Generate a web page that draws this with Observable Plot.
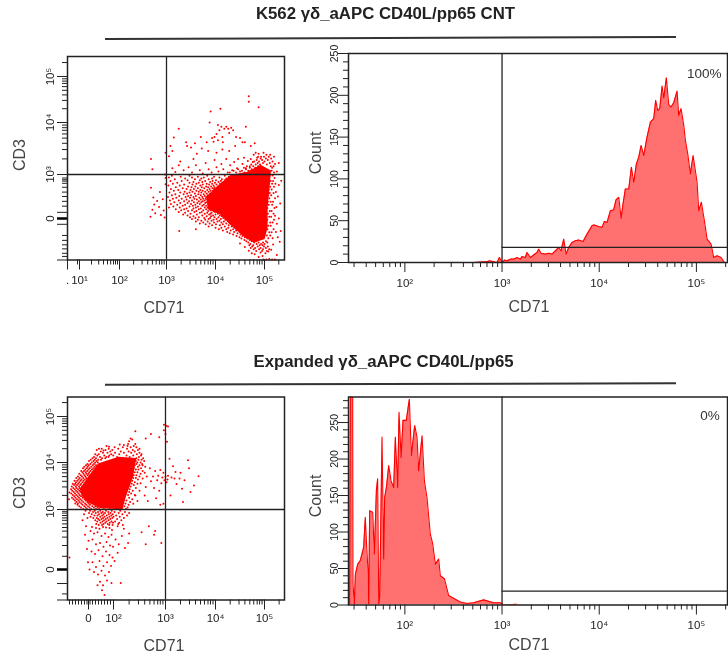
<!DOCTYPE html>
<html><head><meta charset="utf-8">
<script src="https://cdn.jsdelivr.net/npm/d3@7"></script>
<script src="https://cdn.jsdelivr.net/npm/@observablehq/plot@0.6"></script>
<style>
html,body{margin:0;padding:0;background:#fff}
#page{position:relative;width:728px;height:657px;overflow:hidden;font-family:"Liberation Sans",Arial,sans-serif;filter:blur(0.3px)}
#page svg{position:absolute;background:none;overflow:visible}
.t{position:absolute;white-space:nowrap;transform:translate(-50%,-50%);line-height:1}
.title{font-weight:bold;font-size:16.8px;color:#222}
.lab{font-size:16px;color:#444}
.lab.r{transform:translate(-50%,-50%) rotate(-90deg)}
.line{position:absolute;height:1.5px;background:#333}
</style></head><body><div id="page"></div>
<script>
const titleTop="K562 γδ_aAPC CD40L/pp65 CNT";
const titleBottom="Expanded γδ_aAPC CD40L/pp65";
const sup={1:"10¹",2:"10²",3:"10³",4:"10⁴",5:"10⁵"};

// scatter: solid core outline, in display decades
const coreA=[[3.83,2.49],[4.03,2.71],[4.31,2.97],[4.65,3.04],[4.92,3.17],[5.12,3.07],[5.09,2.71],[5.05,2.26],[5.05,1.81],[4.99,1.55],[4.78,1.48],[4.61,1.59],[4.37,1.81],[4.10,2.11],[3.86,2.22]];
const coreC=[[0.68,3.44],[1.01,3.69],[1.41,3.97],[2.10,4.11],[2.42,4.08],[2.36,3.69],[2.23,3.30],[2.16,3.02],[1.48,3.04],[1.01,3.16],[0.75,3.30]];

const dotsA=[[4.68,4.57],[4.68,4.45],[4.88,4.33],[3.90,4.24],[4.10,4.30],[3.88,4.00],[3.25,3.88],[3.15,3.71],[4.05,3.95],[4.12,3.92],[4.18,3.88],[4.22,3.92],[4.26,3.88],[4.32,3.90],[4.36,3.85],[4.08,3.85],[4.02,3.78],[3.98,3.72],[3.93,3.70],[3.96,3.63],[4.05,3.66],[4.14,3.72],[4.15,3.62],[4.28,3.80],[4.42,3.72],[4.62,3.92],[4.60,3.62],[4.50,3.70],[4.55,3.62],[4.40,3.55],[4.72,3.55],[4.80,3.60],[4.82,3.42],[3.58,3.60],[3.40,3.62],[3.42,3.55],[3.50,3.52],[3.72,3.50],[3.82,3.62],[3.70,3.72],[3.05,3.35],[2.98,3.42],[3.08,3.55],[3.12,3.45],[3.28,3.25],[3.55,3.30],[3.62,3.40],[3.85,3.45],[4.02,3.42],[4.14,3.48],[4.28,3.45],[2.67,3.30],[2.70,3.10],
[3.12,3.12],[3.18,3.05],[3.25,3.18],[3.35,3.08],[3.45,3.14],[3.52,3.04],[3.60,3.18],[3.68,3.08],[3.74,3.02],[3.80,3.22],[3.86,3.10],[3.92,3.04],[3.98,3.28],[4.02,3.14],[4.06,3.06],[4.12,3.20],[4.16,3.10],[4.22,3.30],[4.25,3.04],[4.30,3.18],[4.34,3.08],[4.38,3.24],[4.44,3.12],[4.46,3.30],[4.50,3.06],[4.55,3.20],[4.58,3.32],[4.62,3.12],[4.66,3.26],[4.70,3.16],[4.72,3.30],[4.76,3.24],[4.78,3.38],[4.85,3.32],[4.88,3.40],[4.93,3.34],[4.98,3.42],[5.04,3.38],[5.12,3.38],[5.20,3.34],[5.22,3.20],[5.26,3.06],[5.30,3.22],
[4.50,1.44],[4.60,1.36],[4.68,1.28],[4.74,1.22],[4.80,1.20],[4.88,1.14],[4.92,1.24],[4.96,1.16],[5.02,1.22],[5.08,1.26],[5.14,1.30],[5.18,1.42],[5.26,1.18],[5.32,1.48],[4.98,1.08],[5.04,1.08],[5.10,1.09],[5.16,1.08],[5.22,1.08],
[5.24,2.60],[5.25,2.26],[5.22,2.06],[5.26,1.88],[5.24,1.70],[5.28,2.50],[5.30,2.00],[5.30,2.76],[5.33,2.34],[5.35,2.86],[5.28,1.58],[5.34,1.72],
[2.67,2.70],[2.72,2.48],[2.74,2.32],[2.70,2.20],[2.66,2.04],[2.76,2.12],[2.80,2.40],[2.84,2.26],[2.86,2.60],[2.88,2.08],[2.92,2.44],[2.94,2.18],[2.96,2.02],[2.98,2.78],[2.98,2.92],[2.97,3.00],[3.26,1.72],[3.60,1.76]];
const rowsA=[
[3.34,[4.87,4.99,5.09]],[3.31,[4.92,5.03,5.14]],[3.28,[4.84,4.95,5.07]],[3.25,[4.79,4.89,5.00,5.17]],[3.22,[4.86,4.97,5.11]],[3.19,[4.73,4.82,4.91,5.05]],[3.16,[4.64,4.77,4.87,5.13,5.19]],[3.13,[4.58,4.70,4.81,5.16]],[3.10,[4.46,4.62,4.74,4.85]],[3.07,[4.37,4.54,4.67,4.79,5.15]],[3.04,[4.29,4.42,4.59,5.20]],
[2.97,[3.11,3.47,3.83,4.19]],[2.95,[3.29,3.64,3.97,4.27]],[2.93,[3.05,3.52,3.76,4.08]],[2.91,[3.38,3.71,3.93,4.22]],[2.89,[3.17,3.58,3.86,4.13]],[2.87,[3.43,3.68,4.01,4.19]],[2.85,[3.08,3.31,3.79,3.94,4.11]],[2.83,[3.55,3.73,3.89,4.06,4.17]],[2.81,[3.22,3.47,3.66,3.99,4.14]],[2.79,[3.13,3.61,3.82,3.93,4.09]],[2.77,[3.36,3.53,3.74,3.87,4.02]],[2.75,[3.04,3.27,3.69,3.96,4.12]],[2.73,[3.44,3.59,3.81,3.91,4.05]],[2.71,[3.19,3.51,3.72,3.85,3.98]],[2.69,[3.33,3.64,3.77,3.94,4.03]],[2.67,[3.09,3.41,3.56,3.88,3.97]],[2.65,[3.24,3.49,3.69,3.83,4.00]],[2.63,[3.15,3.61,3.74,3.90,3.95]],[2.61,[3.37,3.53,3.66,3.79,3.86]],[2.59,[3.06,3.28,3.47,3.71,3.93]],[2.57,[3.42,3.58,3.82,3.89]],[2.55,[3.18,3.35,3.65,3.76,3.91]],[2.53,[3.11,3.50,3.70,3.84,3.87]],[2.51,[3.26,3.44,3.60,3.78,3.90]],[2.49,[3.03,3.39,3.55,3.73,3.81]],[2.47,[3.20,3.48,3.67,3.85]],[2.45,[3.13,3.31,3.57,3.75,3.80]],[2.43,[3.41,3.62,3.70,3.83]],[2.41,[3.07,3.25,3.52,3.78,3.86]],[2.39,[3.36,3.46,3.66,3.74]],[2.37,[3.16,3.56,3.71,3.82]],[2.35,[3.28,3.43,3.63,3.79]],[2.33,[3.09,3.50,3.68,3.85]],[2.31,[3.22,3.38,3.59,3.76]],[2.29,[3.33,3.54,3.73,3.81]],[2.27,[3.14,3.47,3.64,3.87]],[2.25,[3.05,3.27,3.60,3.78,3.84]],[2.23,[3.41,3.55,3.70,3.88]],[2.21,[3.19,3.36,3.66,3.81,3.93]],[2.19,[3.30,3.52,3.75,3.90]],[2.17,[3.44,3.61,3.85,3.96]],[2.15,[3.25,3.57,3.72,3.99,4.03]],[2.13,[3.38,3.68,3.83,3.92]],[2.11,[3.49,3.78,3.90,4.05]],[2.09,[3.34,3.62,3.87,4.00]],[2.07,[3.43,3.73,3.95,4.09]],[2.05,[3.55,3.82,3.91,4.13]],[2.03,[3.48,3.66,3.98,4.06]],[2.01,[3.59,3.77,3.89,4.16]],[1.99,[3.52,3.86,4.02,4.11]],[1.97,[3.64,3.79,3.96,4.20]],[1.95,[3.71,3.92,4.08,4.25]],[1.93,[3.60,3.84,4.04,4.17]],[1.91,[3.75,3.97,4.12,4.28]],[1.89,[3.68,3.88,4.22,4.31]],[1.87,[3.80,4.01,4.15,4.34]],[1.85,[3.93,4.09,4.27,4.37]],[1.82,[3.86,4.19,4.33]],[1.79,[4.00,4.12,4.26,4.41]],[1.76,[4.07,4.22,4.36,4.46]],[1.73,[4.15,4.31,4.42]],[1.70,[4.24,4.38,4.50]],[1.67,[4.29,4.45,4.54]],[1.64,[4.36,4.51,4.58]],[1.61,[4.43,4.55,4.63]],[1.58,[4.49,4.60,4.68]],[1.55,[4.53,4.65,4.73]],[1.52,[4.59,4.70,4.77]],[1.49,[4.63,4.74,4.83,5.03]],[1.46,[4.67,4.79,4.88,4.97,5.06]],[1.43,[4.71,4.84,4.93,5.00]],[1.40,[4.69,4.77,4.90,4.96]],[1.37,[4.75,4.86,4.99,5.07]],[1.34,[4.72,4.81,4.92,5.03]],[1.31,[4.78,4.89,4.97,5.10]],[1.27,[4.83,4.95,5.05]],
[2.98,[5.11,5.17]],[2.92,[5.09,5.21]],[2.85,[5.13,5.18]],[2.79,[5.10,5.16,5.23]],[2.72,[5.12,5.20]],[2.66,[5.09,5.15]],[2.58,[5.11,5.19]],[2.53,[5.08,5.14]],[2.46,[5.10,5.22]],[2.38,[5.07,5.13,5.18]],[2.31,[5.09,5.16]],[2.24,[5.06,5.21]],[2.17,[5.11,5.15]],[2.11,[5.07,5.19]],[2.04,[5.10,5.14]],[1.97,[5.06,5.20]],[1.91,[5.12,5.17]],[1.84,[5.08,5.13]],[1.76,[5.06,5.19]],[1.69,[5.10,5.15]],[1.62,[5.05,5.12]],[1.56,[5.08,5.17]]];

const dotsC=[[3.02,4.80],[3.05,4.78],[2.97,4.82],[2.97,4.70],[3.00,4.62],[3.03,4.45],[2.88,4.55],[2.72,4.62],[2.62,4.52],[2.42,4.68],[2.33,4.52],[2.30,4.46],[2.36,4.50],[2.28,4.40],[2.20,4.38],[2.12,4.39],[2.42,4.40],[2.50,4.30],[2.54,4.18],[1.82,4.34],[1.60,4.26],[1.42,4.30],[0.24,3.36],[0.22,3.22],
[2.56,3.94],[2.60,3.78],[2.56,3.66],[2.64,3.70],[2.52,3.56],[2.62,3.48],[2.50,3.40],[2.60,3.30],[2.42,3.30],[2.38,3.12],[2.46,3.18],[2.66,3.18],[2.72,3.60],[2.70,3.88],[2.76,3.70],[2.80,3.82],[2.84,3.62],[2.78,3.46],[2.86,3.72],[2.90,3.84],[2.92,3.56],[2.94,3.68],[2.96,3.78],[2.98,3.62],[3.00,3.70],[3.02,3.58],[3.04,3.64],[2.88,3.40],[2.82,3.24],[2.96,3.12],[2.90,3.10],[3.05,3.72],[3.08,4.08],[3.12,3.68],[3.15,3.92],[3.18,3.66],[3.20,3.80],[3.22,3.54],[3.28,3.66],[3.33,3.44],[3.35,3.16],[3.10,3.30],[3.45,4.05],[3.47,3.88],[3.66,3.71],[3.57,3.51],[3.50,3.37],[3.30,3.78],[3.38,3.62],
[1.14,2.71],[1.30,2.69],[1.44,2.68],[1.58,2.71],[1.70,2.70],[1.84,2.69],[1.94,2.66],[2.08,2.72],[2.20,2.68],[2.30,2.60],[0.82,2.92],[0.96,2.86],[0.90,2.72],[0.76,2.82],[1.08,2.64],[1.22,2.60],[1.36,2.62],[1.52,2.56],[1.66,2.60],[1.80,2.54],[1.92,2.58],[2.04,2.50],[2.16,2.56],[2.28,2.44],[0.86,2.58],[1.00,2.48],[1.16,2.50],[1.30,2.42],[1.46,2.44],[1.60,2.38],[1.72,2.46],[1.86,2.40],[1.98,2.38],[2.10,2.42],[2.22,2.36],[0.94,2.34],[1.12,2.30],[1.26,2.26],[1.40,2.32],[1.56,2.22],[1.70,2.30],[1.84,2.24],[1.96,2.20],[2.08,2.28],[0.24,2.20],[0.98,2.12],[1.16,2.12],[1.30,2.04],[1.44,2.14],[1.60,2.06],[1.74,2.12],[1.90,2.06],[2.02,2.14],[1.22,1.96],[1.38,1.92],[1.52,1.98],[1.66,1.90],[1.82,1.96],[1.04,2.00],[1.46,1.80],[1.58,1.74],[1.74,1.82],[1.92,1.78],[2.14,1.78],[1.54,1.66],[1.36,1.74],[1.64,1.58],[2.54,2.62],[2.68,2.72],[2.78,2.58],[2.92,2.44],[2.62,2.42],[2.80,2.64]];
const rowsC=[
[4.36,[1.72,2.27,2.39]],[4.33,[2.02,2.18,2.33,2.44]],[4.30,[1.53,1.81,2.09,2.26]],[4.27,[1.33,1.68,1.95,2.37,2.47]],[4.24,[1.49,1.87,2.14,2.29,2.41]],[4.21,[1.58,1.76,2.03,2.20,2.34,2.50]],[4.18,[1.27,1.41,1.91,2.11,2.45]],[4.15,[1.35,1.63,1.83,1.99,2.25,2.38,2.53]],[4.12,[1.22,1.46,1.71,1.80,2.07,2.31,2.49]],[4.09,[1.16,1.30,1.54,1.67,2.44,2.57]],[4.06,[1.09,1.25,1.39,1.50,2.48,2.54]],[4.03,[1.02,1.20,1.33,2.43,2.59]],[4.00,[1.13,1.27,1.37,2.46,2.52]],[3.97,[0.96,1.07,1.22,2.44,2.55]],[3.94,[0.90,1.01,1.17,1.30,2.41,2.50]],[3.91,[0.83,0.97,1.11,1.24,2.47,2.61]],[3.88,[0.78,0.93,1.05,1.19,2.39,2.53]],[3.85,[0.87,1.00,1.14,2.43,2.48]],[3.82,[0.71,0.82,0.95,1.08,2.37,2.56]],[3.79,[0.76,0.89,1.03,2.41,2.46]],[3.76,[0.63,0.80,0.92,1.00,2.35,2.52]],[3.73,[0.69,0.84,0.97,2.39,2.44]],[3.70,[0.58,0.74,0.88,2.34,2.50]],[3.67,[0.51,0.65,0.79,0.91,2.38,2.43]],[3.64,[0.60,0.72,0.85,2.33,2.47]],[3.61,[0.44,0.55,0.68,0.80,2.36]],[3.58,[0.50,0.63,0.76,2.31,2.41]],[3.55,[0.37,0.47,0.59,0.71,2.35,2.46]],[3.52,[0.42,0.54,0.67,2.29,2.39]],[3.49,[0.33,0.49,0.62,0.75,2.33]],[3.46,[0.39,0.52,0.65,2.27,2.43]],[3.43,[0.30,0.45,0.58,0.70,2.31]],[3.40,[0.35,0.50,0.63,2.25,2.37]],[3.37,[0.41,0.55,0.68,2.30]],[3.34,[0.31,0.46,0.60,2.24,2.34]],[3.31,[0.37,0.51,0.65,2.28,2.41]],[3.28,[0.43,0.57,0.70,2.22]],[3.25,[0.34,0.48,0.62,0.77,2.30]],[3.22,[0.40,0.54,0.67,0.84,2.20,2.36]],[3.19,[0.46,0.60,0.73,0.89,2.25]],[3.16,[0.52,0.65,0.79,0.95,2.18,2.32]],[3.13,[0.47,0.58,0.71,0.86,1.00,2.23]],[3.10,[0.56,0.76,0.91,1.06,2.17,2.29]],[3.07,[0.63,0.83,0.98,1.15,1.28,2.21]],[3.04,[0.70,0.89,1.04,1.22,1.36,2.17,2.27]],[3.01,[0.79,0.94,1.11,1.30,1.42,1.61,1.85,2.08,2.24]],
[2.98,[0.88,1.06,1.25,1.47,1.70,1.93,2.13]],[2.96,[1.18,1.38,1.57,1.79,2.02,2.22]],[2.94,[1.02,1.29,1.51,1.66,1.88,2.10,2.30]],[2.92,[1.13,1.42,1.60,1.81,1.97,2.17]],[2.90,[1.24,1.36,1.55,1.73,1.91,2.05,2.26]],[2.88,[1.08,1.47,1.64,1.84,2.00,2.12]],[2.86,[1.19,1.33,1.58,1.76,1.95,2.20]],[2.84,[1.39,1.52,1.69,1.87,2.07]],[2.82,[1.27,1.44,1.62,1.80,2.15]],[2.80,[1.35,1.56,1.72,1.92,2.03]],[2.78,[1.48,1.67,1.85,1.98,2.11]],[2.76,[1.31,1.60,1.77,2.09]],[2.74,[1.41,1.54,1.83,1.96,2.18]]];

// histograms: log10(CD71) and count at outline corners
const histBx=[2.708,2.846,2.873,2.949,2.973,2.993,3.007,3.024,3.051,3.086,3.12,3.154,3.189,3.206,3.24,3.257,3.292,3.326,3.36,3.377,3.401,3.446,3.48,3.515,3.549,3.583,3.607,3.635,3.659,3.686,3.72,3.755,3.789,3.834,3.875,3.926,3.943,3.995,4.029,4.053,4.081,4.115,4.149,4.173,4.201,4.225,4.245,4.269,4.304,4.331,4.355,4.383,4.407,4.431,4.458,4.492,4.527,4.561,4.581,4.602,4.623,4.647,4.664,4.691,4.715,4.739,4.767,4.801,4.818,4.842,4.87,4.887,4.911,4.938,4.966,5.007,5.024,5.051,5.082,5.11,5.151,5.178,5.213,5.254,5.288];
const histBy=[0,1,2,0,6,2,0,3,2,4,4,6,4,7,6,12,6,9,12,16,11,10,11,10,14,18,14,28,10,18,24,26,27,25,34,44,45,43,42,49,48,62,63,75,78,53,70,88,88,114,96,118,126,140,128,150,168,172,194,182,184,211,197,221,189,186,191,205,176,184,164,146,130,106,128,96,62,72,50,28,22,6,8,6,0];
const histDx=[1.432,1.439,1.463,1.466,1.48,1.491,1.515,1.542,1.576,1.593,1.604,1.621,1.628,1.638,1.669,1.686,1.707,1.72,1.731,1.741,1.765,1.782,1.792,1.81,1.834,1.858,1.885,1.902,1.926,1.94,1.961,1.981,2.015,2.046,2.067,2.101,2.125,2.142,2.177,2.201,2.228,2.262,2.286,2.314,2.348,2.365,2.407,2.451,2.52,2.571,2.64,2.708,2.811,2.863,2.914,2.983,3.017,3.154];
const histDy=[0,285,285,29,1,42,56,61,79,120,88,47,1,129,127,70,157,173,1,11,230,63,147,161,191,170,161,230,161,264,202,253,253,282,205,246,230,184,232,170,147,97,84,56,63,40,36,13,8,4,2,3,7,5,3,3,0,1];

const histXminor=[30,40,50,60,70,80,90,200,300,400,500,600,700,800,900,2000,3000,4000,5000,6000,7000,8000,9000,20000,30000,40000,50000,60000,70000,80000,90000,200000];
const histXmajor=[2,3,4,5];
const countMajorB=[0,50,100,150,200,250];
const countMinorB=[10,20,30,40,60,70,80,90,110,120,130,140,160,170,180,190,210,220,230,240];
const countMajorD=[0,50,100,150,200,250];
const countMinorD=[10,20,30,40,60,70,80,90,110,120,130,140,160,170,180,190,210,220,230,240,260,270,280];

const xMinorScatterA=[0.95,1.30,1.48,1.60,1.70,1.78,1.85,1.90,1.95,2.30,2.48,2.60,2.70,2.78,2.85,2.90,2.95,3.30,3.48,3.60,3.70,3.78,3.85,3.90,3.95,4.30,4.48,4.60,4.70,4.78,4.85,4.90,4.95,5.30];
const xMinorScatterC=[0.24,0.36,0.48,0.60,0.72,0.84,0.94,1.06,1.16,1.28,1.40,1.52,1.64,1.76,1.88,2.30,2.48,2.60,2.70,2.78,2.85,2.90,2.95,3.30,3.48,3.60,3.70,3.78,3.85,3.90,3.95,4.30,4.48,4.60,4.70,4.78,4.85,4.90,4.95,5.30];
const yMinorUpper=[3.30,3.48,3.60,3.70,3.78,3.85,3.90,3.95,4.30,4.48,4.60,4.70,4.78,4.85,4.90,4.95,5.30];
const yMinorLowerA=[2.92,2.88,2.85,2.80,2.71,2.60,2.50,2.39,2.28,1.62,1.51,1.41,1.32,1.22,1.15];
const yLongLowerA=[2.14,1.87,1.07];
const yMinorLowerC=[2.97,2.94,2.90,2.86,2.82,2.76,2.70,2.64,2.54,2.40,2.22,1.60];
const yLongLowerC=[1.77,1.5];

const page=document.getElementById("page");
function addText(s,x,y,cls){const e=document.createElement("div");e.className="t "+cls;e.textContent=s;e.style.left=x+"px";e.style.top=y+"px";page.append(e);}
function addLine(x1,x2,y,rot){const e=document.createElement("div");e.className="line";e.style.left=x1+"px";e.style.width=(x2-x1)+"px";e.style.top=y+"px";e.style.transform=`rotate(${rot}deg)`;page.append(e);}

const INK="#222";
const tickFont=11.5;
function panel(o){
  const {L,T,W,H,frame:[fx0,fx1,fy0,fy1],xDom,xPx,yDom,yPx,marks}=o;
  const svg=Plot.plot({
    width:W,height:H,
    marginLeft:fx0-L,marginRight:L+W-fx1,marginTop:fy0-T,marginBottom:T+H-fy1,
    style:{background:"none",fontFamily:'"Liberation Sans",Arial,sans-serif',overflow:"visible"},
    x:{type:"linear",domain:xDom,range:xPx.map(v=>v-L),axis:null},
    y:{type:"linear",domain:yDom,range:yPx.map(v=>v-T),axis:null},
    marks:[...marks,Plot.frame({stroke:INK,strokeWidth:1.5})]
  });
  svg.style.left=L+"px";svg.style.top=T+"px";
  page.append(svg);
}
const noText=()=>"";
const xAxes=(minor,major,fmt,pad)=>[
  Plot.axisX(minor,{anchor:"bottom",tickSize:5,tickFormat:noText,stroke:INK,label:null}),
  Plot.axisX(major,{anchor:"bottom",tickSize:10,tickPadding:pad,tickFormat:fmt,stroke:INK,fill:INK,fontSize:tickFont,label:null})
];
const yAxes=(minor,major,fmt,pad,fs=tickFont)=>[
  Plot.axisY(minor,{anchor:"left",tickSize:5,tickFormat:noText,stroke:INK,label:null}),
  Plot.axisY(major,{anchor:"left",tickSize:10,tickPadding:pad,tickRotate:-90,tickFormat:fmt,stroke:INK,fill:INK,fontSize:fs,label:null})
];
const supFmt=d=>sup[d]||"";
const flat=rows=>rows.flatMap(([v,ds])=>ds.map(d=>[d,v]));

function scatter(core,dots,gx,gy){return [
  Plot.line(core,{x:d=>d[0],y:d=>d[1],fill:"#ff0000",stroke:"#ff0000",curve:"linear-closed"}),
  Plot.dot(dots,{x:d=>d[0],y:d=>d[1],r:1,fill:"#ff0000",stroke:"none"}),
  Plot.ruleX([gx],{stroke:INK,strokeWidth:1.3}),
  Plot.ruleY([gy],{stroke:INK,strokeWidth:1.3})
];}
function hist(xs,ys,gate,pct,px,py){
  const t=xs.map((x,i)=>({x,y:ys[i]}));
  return [
    Plot.areaY(t,{x:"x",y:"y",fill:"#ff7070",clip:"frame"}),
    Plot.lineY(t,{x:"x",y:"y",stroke:"#ff0000",strokeWidth:1.1,clip:"frame"}),
    Plot.ruleX([3],{stroke:INK,strokeWidth:1.3}),
    Plot.ruleY([gate],{x1:3,x2:5.33,stroke:INK,strokeWidth:1.3}),
    Plot.text([pct],{x:px,y:py,text:d=>d,fontSize:13.5,fill:"#333",textAnchor:"middle"})
  ];
}

// Panel A
panel({L:0,T:40,W:300,H:285,frame:[67,284,56,259.5],
  xDom:[0.7,1,2,3,4,5,5.42],xPx:[67,79,119,166,215,264,284],
  yDom:[1.07,2,3,4,5,5.43],yPx:[259.5,218,174,122,76,56],
  marks:[...scatter(coreA,[...dotsA,...flat(rowsA)],3,3),
    ...xAxes(xMinorScatterA,[0.7,1,2,3,4,5],d=>d===0.7?".":supFmt(d),6),
    ...yAxes([...yMinorUpper,...yMinorLowerA],[3,4,5],supFmt,4),
    Plot.axisY(yLongLowerA,{anchor:"left",tickSize:10,tickFormat:noText,stroke:INK,label:null}),
    Plot.axisY([2],{anchor:"left",tickSize:10,tickPadding:4,tickRotate:-90,strokeWidth:2.5,tickFormat:()=>"0",stroke:"#000",fill:INK,fontSize:tickFont,label:null})
  ]});
// Panel B
panel({L:300,T:40,W:428,H:285,frame:[348,727,53,262],
  xDom:[1.42,5.32],xPx:[348,727],yDom:[0,250],yPx:[262,53],
  marks:[...hist(histBx,histBy,18,"100%",5.08,226),
    ...xAxes(histXminor.map(Math.log10),histXmajor,supFmt,6),
    ...yAxes(countMinorB,countMajorB,d=>String(d),1,10.5)]});
// Panel C
panel({L:0,T:385,W:300,H:272,frame:[67,284,396.5,599.5],
  xDom:[0.16,1,2,3,4,5,5.41],xPx:[67,88,113,165,215,264,284],
  yDom:[1.5,2,3,4,5,5.42],yPx:[599.5,569,509,462,416,396.5],
  marks:[...scatter(coreC,[...dotsC,...flat(rowsC)],3,3),
    ...xAxes(xMinorScatterC,[1,2,3,4,5],d=>d===1?"0":supFmt(d),4),
    ...yAxes([...yMinorUpper,...yMinorLowerC],[3,4,5],supFmt,4),
    Plot.axisY(yLongLowerC,{anchor:"left",tickSize:10,tickFormat:noText,stroke:INK,label:null}),
    Plot.axisY([2],{anchor:"left",tickSize:10,tickPadding:4,tickRotate:-90,strokeWidth:2.5,tickFormat:()=>"0",stroke:"#000",fill:INK,fontSize:tickFont,label:null})
  ]});
// Panel D
panel({L:300,T:385,W:428,H:272,frame:[348,727,396.5,604.5],
  xDom:[1.42,5.32],xPx:[348,727],yDom:[0,285],yPx:[604.5,396.5],
  marks:[...hist(histDx,histDy,19,"0%",5.14,260),
    ...xAxes(histXminor.map(Math.log10),histXmajor,supFmt,6),
    ...yAxes(countMinorD,countMajorD,d=>String(d),1,10.5)]});

addText(titleTop,385.5,14,"title");
addText(titleBottom,383.5,362,"title");
addLine(105,676,36.5,-0.22);
addLine(105,676,382.5,-0.15);
addText("CD71",164,308,"lab");
addText("CD71",529,307,"lab");
addText("CD71",164,646,"lab");
addText("CD71",529,645,"lab");
addText("CD3",20,155,"lab r");
addText("CD3",20,493,"lab r");
addText("Count",316,153,"lab r");
addText("Count",316,496,"lab r");
</script></body></html>
